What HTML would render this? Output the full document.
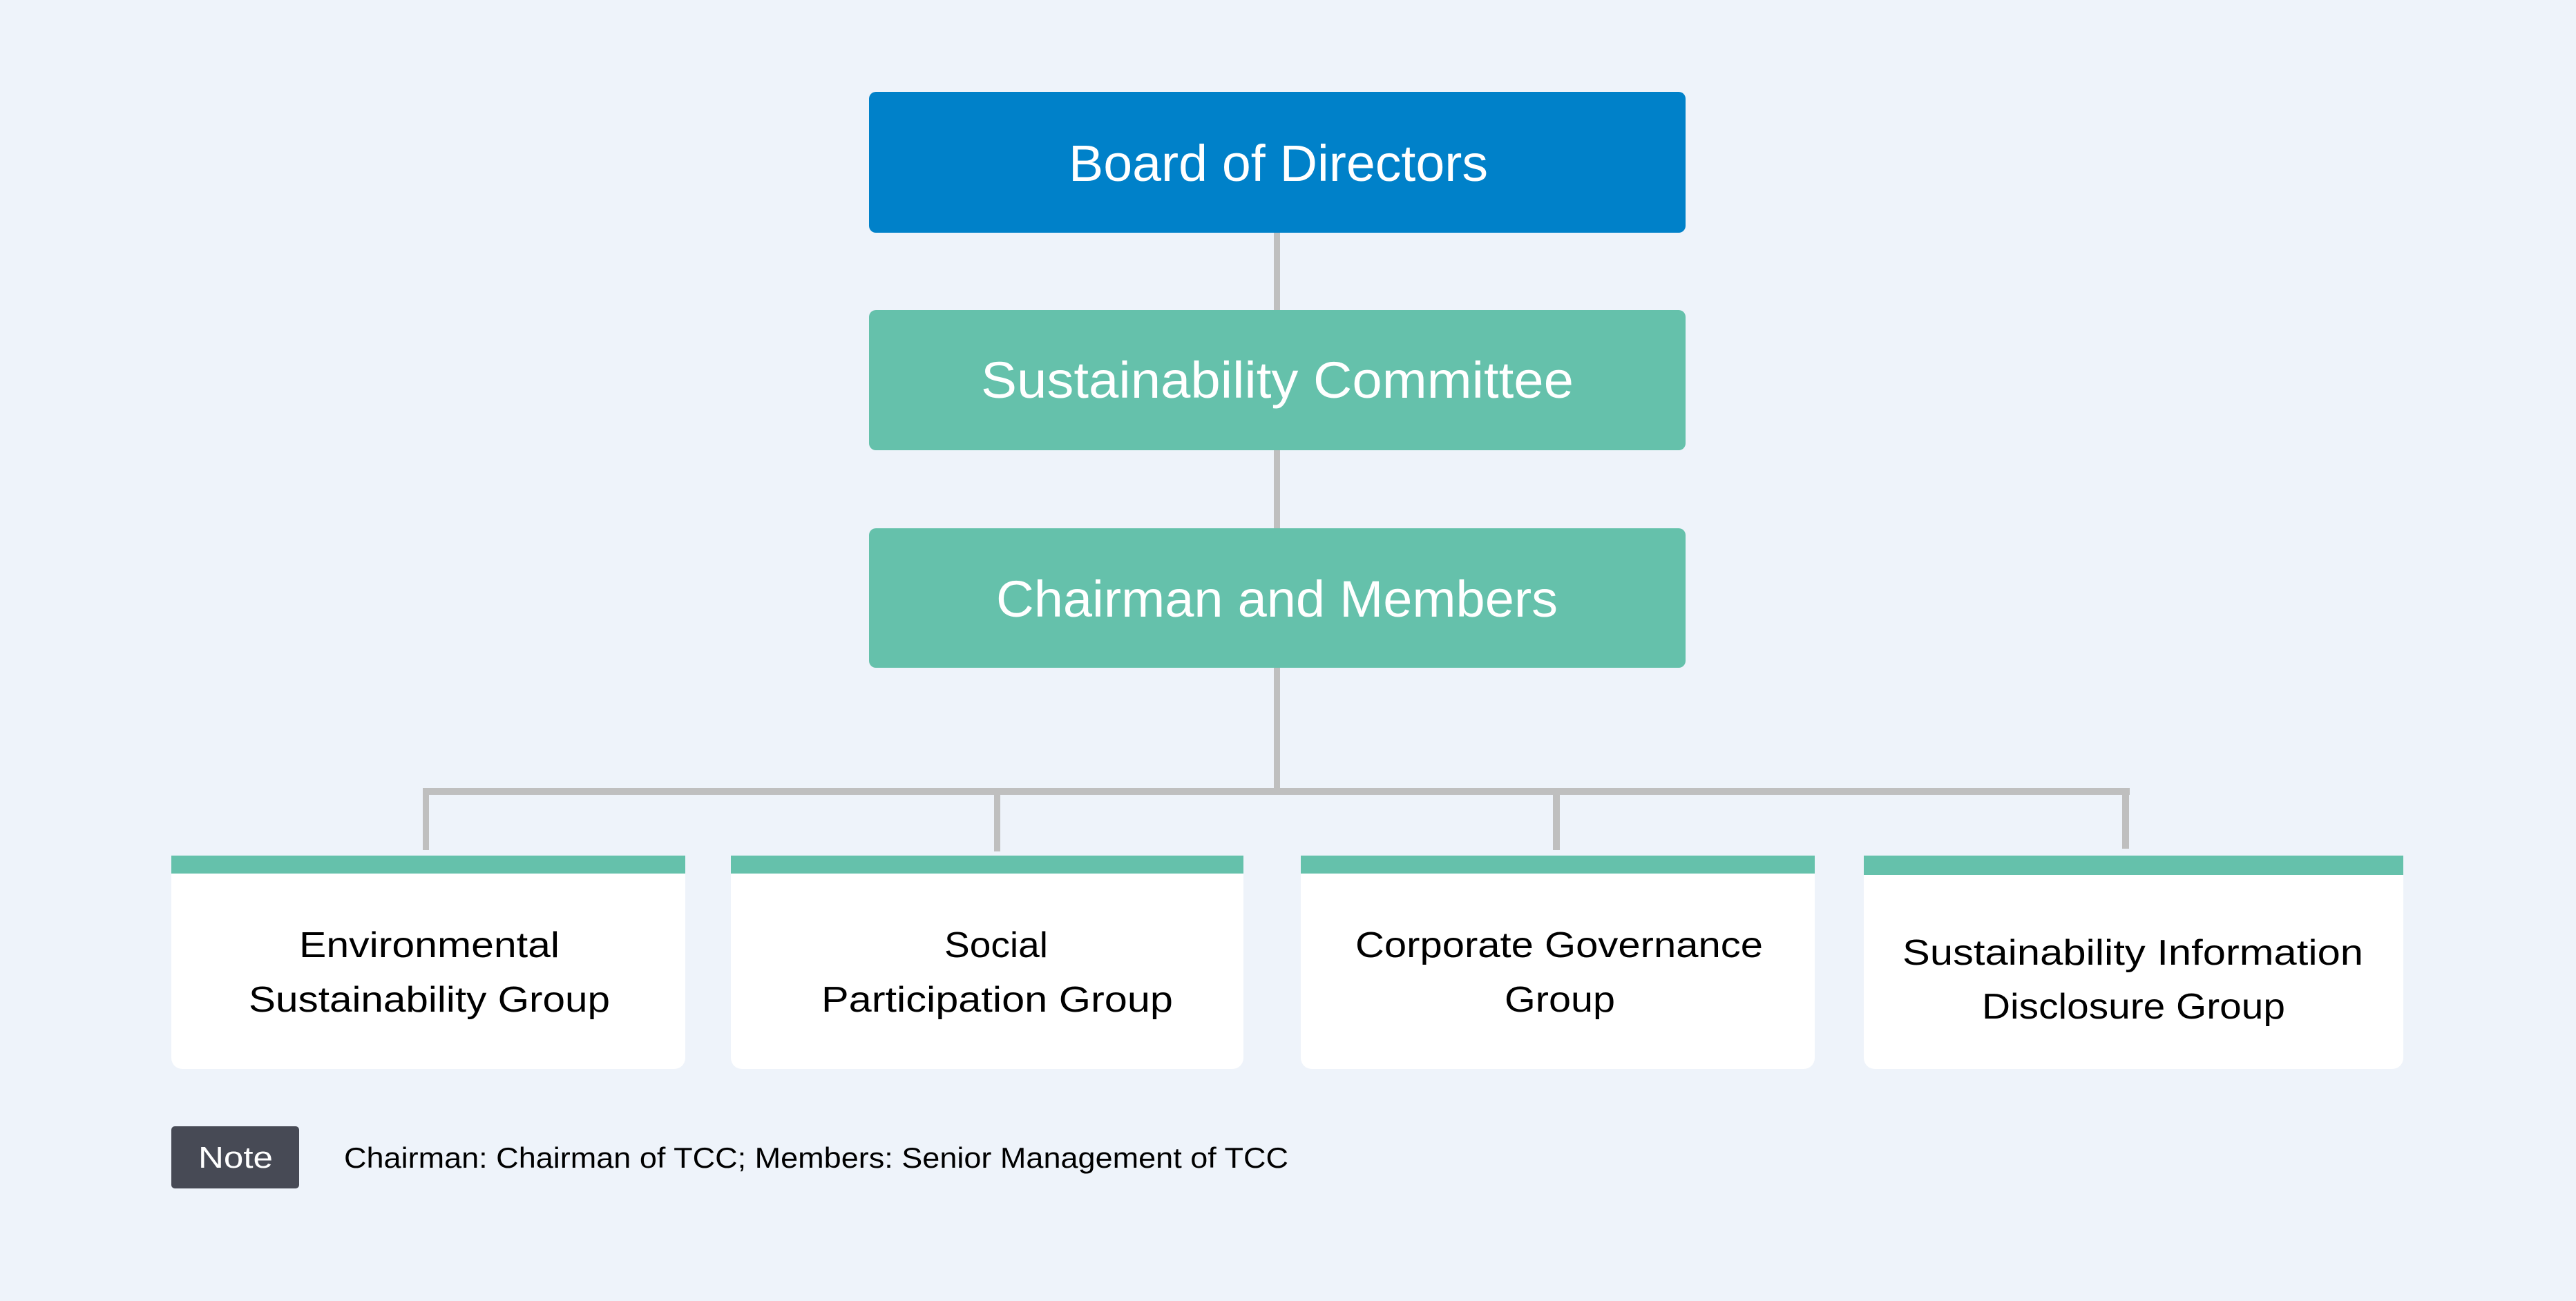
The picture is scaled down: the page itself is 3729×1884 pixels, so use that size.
<!DOCTYPE html>
<html><head><meta charset="utf-8"><style>
html,body{margin:0;padding:0;background:#eef3fa;}
svg{display:block;}
text{font-family:"Liberation Sans",sans-serif;}
</style></head><body>
<svg width="3729" height="1884" viewBox="0 0 3729 1884" xmlns="http://www.w3.org/2000/svg">
<rect width="3729" height="1884" fill="#eef3fa"/>
<g fill="#bfbfbf">
<rect x="1844" y="337" width="9" height="112"/>
<rect x="1844" y="652" width="9" height="113"/>
<rect x="1844" y="967" width="9" height="180"/>
<rect x="612" y="1141" width="2471" height="10"/>
<rect x="612" y="1141" width="9" height="90"/>
<rect x="1439" y="1141" width="9" height="92"/>
<rect x="2248" y="1141" width="10" height="90"/>
<rect x="3072" y="1141" width="10" height="88"/>
</g>
<rect x="1258" y="133" width="1182" height="204" rx="10" fill="#0081c9"/>
<rect x="1258" y="449" width="1182" height="203" rx="10" fill="#65c1ab"/>
<rect x="1258" y="765" width="1182" height="202" rx="10" fill="#65c1ab"/>
<g fill="#ffffff" font-size="74">
<text x="1547" y="262" textLength="607" lengthAdjust="spacingAndGlyphs">Board of Directors</text>
<text x="1420" y="576" textLength="858" lengthAdjust="spacingAndGlyphs">Sustainability Committee</text>
<text x="1442" y="893" textLength="813" lengthAdjust="spacingAndGlyphs">Chairman and Members</text>
</g>
<g>
<rect x="248" y="1239" width="744" height="309" rx="16" fill="#fff"/>
<rect x="248" y="1239" width="744" height="26" fill="#65c1ab"/>
<rect x="1058" y="1239" width="742" height="309" rx="16" fill="#fff"/>
<rect x="1058" y="1239" width="742" height="26" fill="#65c1ab"/>
<rect x="1883" y="1239" width="744" height="309" rx="16" fill="#fff"/>
<rect x="1883" y="1239" width="744" height="26" fill="#65c1ab"/>
<rect x="2698" y="1239" width="781" height="309" rx="16" fill="#fff"/>
<rect x="2698" y="1239" width="781" height="28" fill="#65c1ab"/>
</g>
<g fill="#000" font-size="52">
<text x="433" y="1386" textLength="377" lengthAdjust="spacingAndGlyphs">Environmental</text>
<text x="360" y="1465" textLength="523" lengthAdjust="spacingAndGlyphs">Sustainability Group</text>
<text x="1367" y="1386" textLength="150" lengthAdjust="spacingAndGlyphs">Social</text>
<text x="1189" y="1465" textLength="509" lengthAdjust="spacingAndGlyphs">Participation Group</text>
<text x="1962" y="1386" textLength="590" lengthAdjust="spacingAndGlyphs">Corporate Governance</text>
<text x="2178" y="1465" textLength="160" lengthAdjust="spacingAndGlyphs">Group</text>
<text x="2754" y="1397" textLength="667" lengthAdjust="spacingAndGlyphs">Sustainability Information</text>
<text x="2869" y="1475" textLength="439" lengthAdjust="spacingAndGlyphs">Disclosure Group</text>
</g>
<rect x="248" y="1631" width="185" height="90" rx="5" fill="#474a55"/>
<text x="287" y="1691" font-size="44" fill="#fff" textLength="108" lengthAdjust="spacingAndGlyphs">Note</text>
<text x="498" y="1691" font-size="42" fill="#000" textLength="1367" lengthAdjust="spacingAndGlyphs">Chairman: Chairman of TCC; Members: Senior Management of TCC</text>
</svg>
</body></html>
